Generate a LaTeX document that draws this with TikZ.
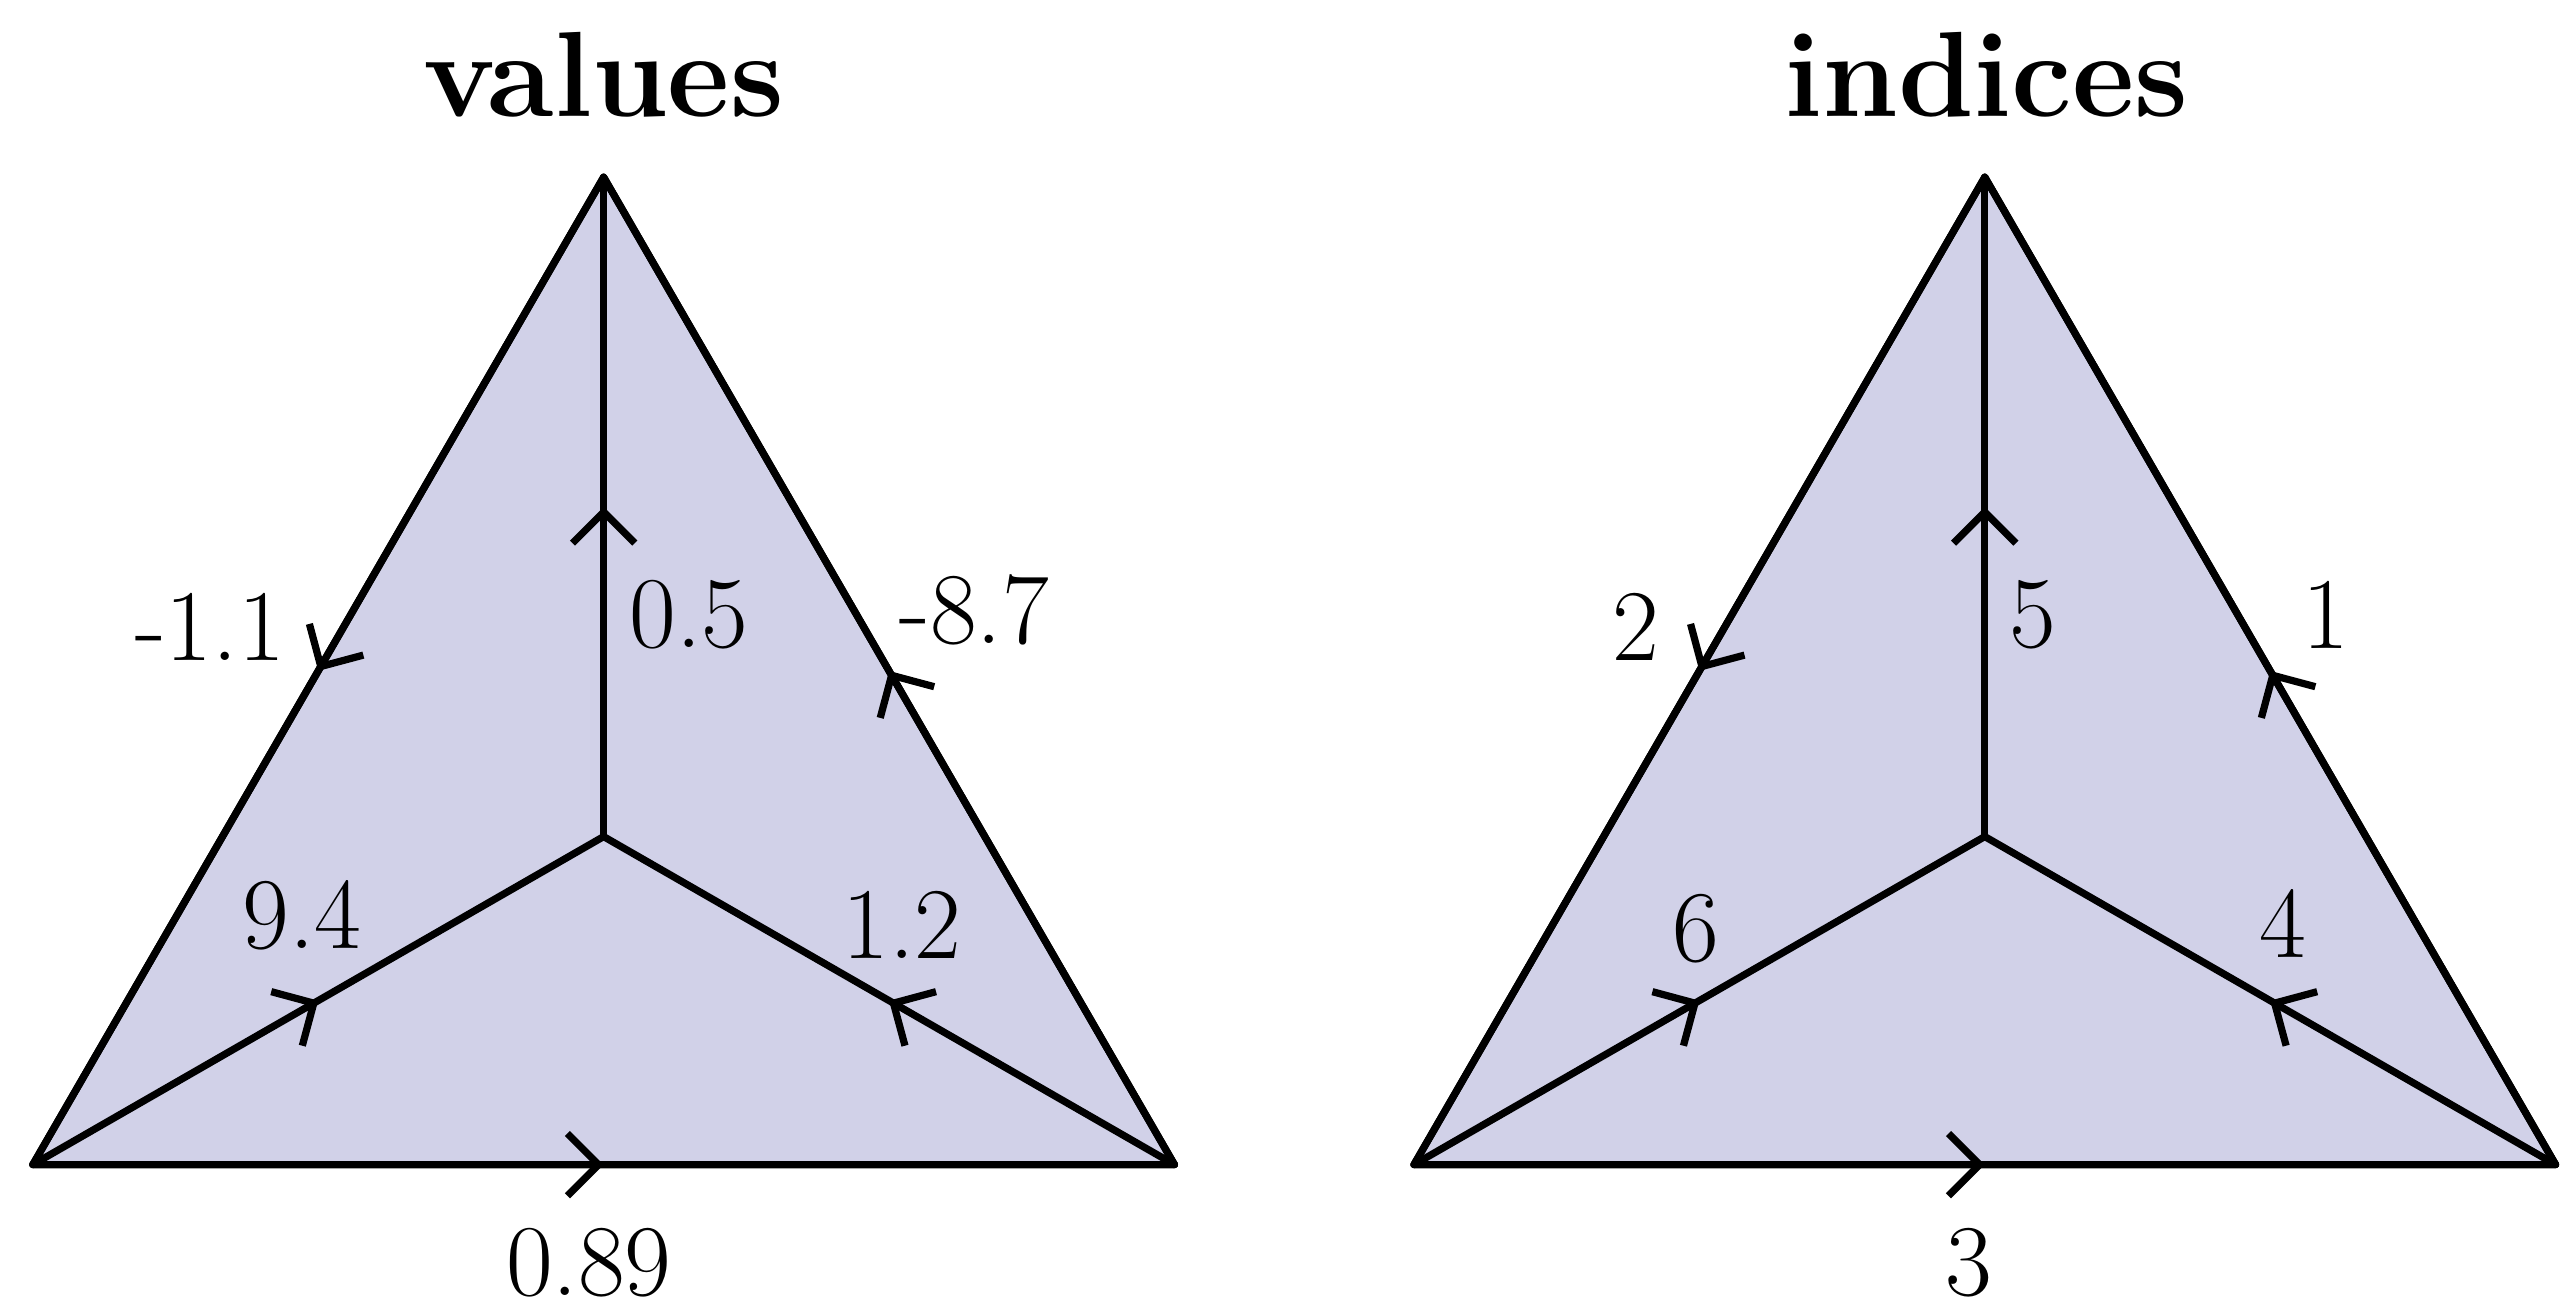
\documentclass[tikz,border=0pt]{standalone}
\usetikzlibrary{arrows.meta,decorations.markings}
\definecolor{facefill}{RGB}{209,209,232}
\tikzset{
  edgeline/.style={line width=2.2pt, line cap=round,
    postaction={decorate},
    decoration={markings, mark=at position 0.5 with {\arrow{Straight Barb[length=9.5pt,width=19pt,line width=2.2pt]}}}},
  outline/.style={line width=2.2pt, line join=round},
  facefillstyle/.style={fill=facefill},
  lbl/.style={font=\fontsize{31}{31}\selectfont, inner sep=0pt},
  ttl/.style={font=\fontsize{37}{37}\selectfont\bfseries, inner sep=0pt, anchor=base},
}
\begin{document}
\begin{tikzpicture}[x=0.5pt,y=-0.5pt]
\useasboundingbox (0,0) rectangle (1568,800);
% left triangle
\coordinate (aT) at (368,108);
\coordinate (aL) at (20,710);
\coordinate (aR) at (716,710);
\coordinate (aC) at (368,510);
% right triangle
\coordinate (bT) at (1210,108);
\coordinate (bL) at (862,710);
\coordinate (bR) at (1558,710);
\coordinate (bC) at (1210,510);

\fill[facefillstyle] (aT) -- (aL) -- (aR) -- cycle;
\fill[facefillstyle] (bT) -- (bL) -- (bR) -- cycle;

\foreach \p in {a,b}{
  \draw[outline] (\p T) -- (\p L) -- (\p R) -- cycle;
  \draw[edgeline] (\p T) -- (\p L);
  \draw[edgeline] (\p R) -- (\p T);
  \draw[edgeline] (\p L) -- (\p R);
  \draw[edgeline] (\p C) -- (\p T);
  \draw[edgeline] (\p L) -- (\p C);
  \draw[edgeline] (\p R) -- (\p C);
}

\node[ttl] (tvalues) at (368,71) {values};
\node[ttl] (tindices) at (1211,71) {indices};

\node[lbl] (va) at (128,382) {-1.1};
\node[lbl] (vb) at (420,375) {0.5};
\node[lbl] (vc) at (594,372) {-8.7};
\node[lbl] (vd) at (184,558) {9.4};
\node[lbl] (ve) at (550,564) {1.2};
\node[lbl] (vf) at (359,770) {0.89};

\node[lbl] (ia) at (997,382) {2};
\node[lbl] (ib) at (1239,375) {5};
\node[lbl] (ic) at (1418,375) {1};
\node[lbl] (id) at (1034,566) {6};
\node[lbl] (ie) at (1392,563) {4};
\node[lbl] (if) at (1200,770) {3};
\end{tikzpicture}
\end{document}
